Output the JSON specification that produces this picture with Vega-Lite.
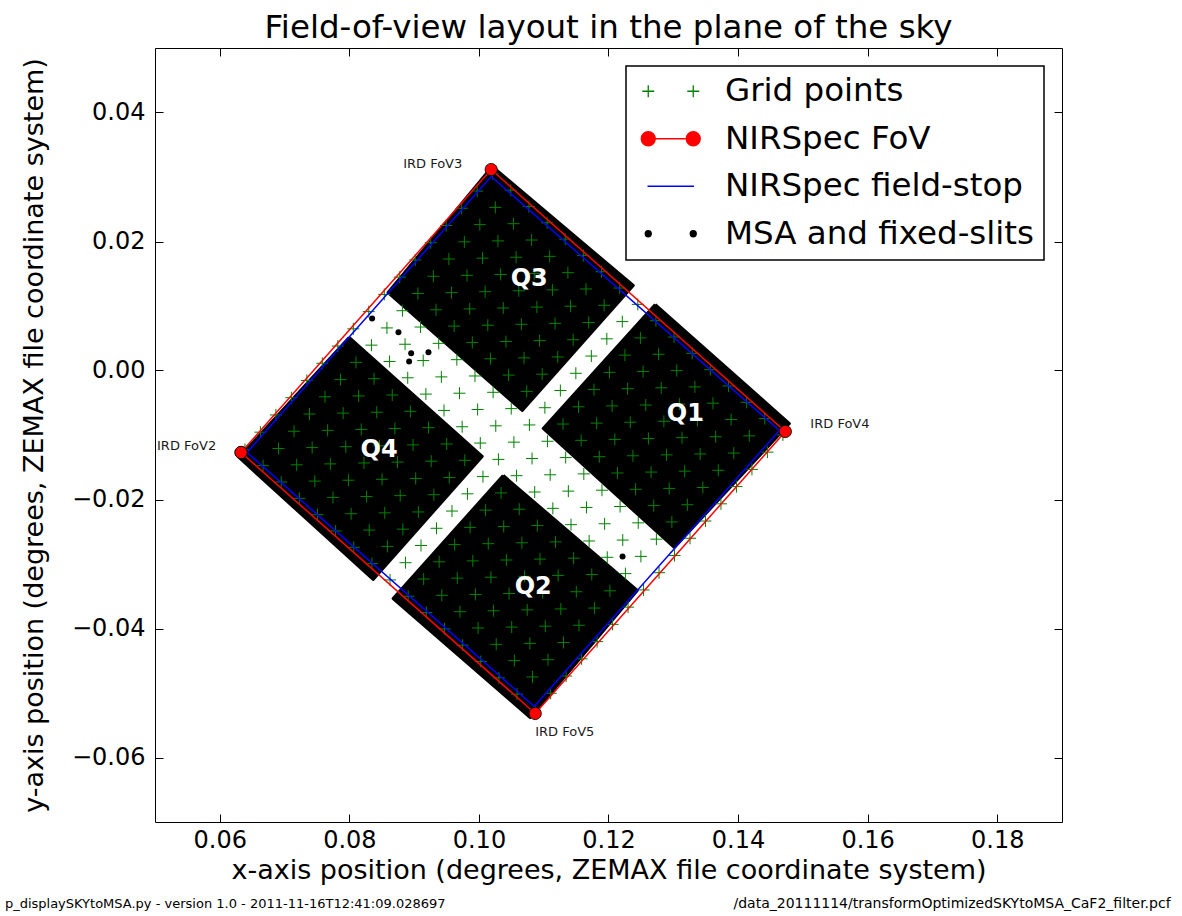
{
"$schema": "https://vega.github.io/schema/vega-lite/v6.json",
"width": 907, "height": 774,
"autosize": {"type": "none"},
"padding": {"left": 155, "top": 48, "right": 120, "bottom": 94},
"background": "white",
"title": {"text": "Field-of-view layout in the plane of the sky", "fontSize": 32.5, "font": "DejaVu Sans", "fontWeight": "normal", "color": "black", "anchor": "middle", "offset": 3},
"config": {"view": {"stroke": "black", "strokeWidth": 1}, "font": "DejaVu Sans"},
"datasets": {
"msa": [
{"series":"MSA and fixed-slits","q":"Q3","k":0,"x":0.10205,"y":0.03163},{"series":"MSA and fixed-slits","q":"Q3","k":1,"x":0.12382,"y":0.01318},{"series":"MSA and fixed-slits","q":"Q3","k":2,"x":0.10668,"y":-0.0062},{"series":"MSA and fixed-slits","q":"Q3","k":3,"x":0.08598,"y":0.01209},{"series":"MSA and fixed-slits","q":"Q3","k":4,"x":0.10205,"y":0.03163},
{"series":"MSA and fixed-slits","q":"Q1","k":0,"x":0.12722,"y":0.01023},{"series":"MSA and fixed-slits","q":"Q1","k":1,"x":0.14792,"y":-0.00822},{"series":"MSA and fixed-slits","q":"Q1","k":2,"x":0.13015,"y":-0.02744},{"series":"MSA and fixed-slits","q":"Q1","k":3,"x":0.10992,"y":-0.00899},{"series":"MSA and fixed-slits","q":"Q1","k":4,"x":0.12722,"y":0.01023},
{"series":"MSA and fixed-slits","q":"Q4","k":0,"x":0.07996,"y":0.00512},{"series":"MSA and fixed-slits","q":"Q4","k":1,"x":0.1005,"y":-0.01333},{"series":"MSA and fixed-slits","q":"Q4","k":2,"x":0.08367,"y":-0.0324},{"series":"MSA and fixed-slits","q":"Q4","k":3,"x":0.06297,"y":-0.01349},{"series":"MSA and fixed-slits","q":"Q4","k":4,"x":0.07996,"y":0.00512},
{"series":"MSA and fixed-slits","q":"Q2","k":0,"x":0.10375,"y":-0.01628},{"series":"MSA and fixed-slits","q":"Q2","k":1,"x":0.12444,"y":-0.03411},{"series":"MSA and fixed-slits","q":"Q2","k":2,"x":0.10792,"y":-0.0538},{"series":"MSA and fixed-slits","q":"Q2","k":3,"x":0.08676,"y":-0.03535},{"series":"MSA and fixed-slits","q":"Q2","k":4,"x":0.10375,"y":-0.01628}
],
"slits": [
{"series":"MSA and fixed-slits","x":0.08351,"y":0.00806},{"series":"MSA and fixed-slits","x":0.08758,"y":0.00594},{"series":"MSA and fixed-slits","x":0.08954,"y":0.00268},{"series":"MSA and fixed-slits","x":0.09221,"y":0.00284},{"series":"MSA and fixed-slits","x":0.08923,"y":0.0014},{"series":"MSA and fixed-slits","x":0.12217,"y":-0.02884}
],
"fov": [
{"series":"NIRSpec FoV","k":0,"x":0.06328,"y":-0.01271},{"series":"NIRSpec FoV","k":1,"x":0.10189,"y":0.03116},{"series":"NIRSpec FoV","k":2,"x":0.1473,"y":-0.00946},{"series":"NIRSpec FoV","k":3,"x":0.10869,"y":-0.05318},{"series":"NIRSpec FoV","k":4,"x":0.06328,"y":-0.01271}
],
"stop": [
{"series":"NIRSpec field-stop","k":0,"x":0.06421,"y":-0.01271},{"series":"NIRSpec field-stop","k":1,"x":0.10189,"y":0.03008},{"series":"NIRSpec field-stop","k":2,"x":0.14637,"y":-0.0093},{"series":"NIRSpec field-stop","k":3,"x":0.10853,"y":-0.05209},{"series":"NIRSpec field-stop","k":4,"x":0.06421,"y":-0.01271}
],
"ird": [
{"label":"IRD FoV3","x":0.0883,"y":0.03209},{"label":"IRD FoV4","x":0.15116,"y":-0.00822},{"label":"IRD FoV5","x":0.10869,"y":-0.05597},{"label":"IRD FoV2","x":0.05031,"y":-0.01178}
],
"quad": [
{"label":"Q3","x":0.10776,"y":0.01426},{"label":"Q1","x":0.13185,"y":-0.00682},{"label":"Q4","x":0.08459,"y":-0.0124},{"label":"Q2","x":0.10838,"y":-0.03349}
],
"footL": [{"label":"p_displaySKYtoMSA.py - version 1.0 - 2011-11-16T12:41:09.028697","x":0.02683,"y":-0.08264}],
"footR": [{"label":"/data_20111114/transformOptimizedSKYtoMSA_CaF2_filter.pcf","x":0.20676,"y":-0.08264}],
"grid": [
{"series":"Grid points","x":0.06388,"y":-0.01223},{"series":"Grid points","x":0.06627,"y":-0.00956},{"series":"Grid points","x":0.06866,"y":-0.00689},{"series":"Grid points","x":0.07105,"y":-0.00422},{"series":"Grid points","x":0.07344,"y":-0.00155},{"series":"Grid points","x":0.07583,"y":0.00112},{"series":"Grid points","x":0.07822,"y":0.00379},{"series":"Grid points","x":0.08061,"y":0.00646},{"series":"Grid points","x":0.083,"y":0.00913},{"series":"Grid points","x":0.08539,"y":0.0118},{"series":"Grid points","x":0.08778,"y":0.01447},{"series":"Grid points","x":0.09017,"y":0.01714},{"series":"Grid points","x":0.09256,"y":0.01981},{"series":"Grid points","x":0.09495,"y":0.02248},{"series":"Grid points","x":0.09734,"y":0.02515},{"series":"Grid points","x":0.09973,"y":0.02782},{"series":"Grid points","x":0.10212,"y":0.03049},
{"series":"Grid points","x":0.06668,"y":-0.01476},{"series":"Grid points","x":0.06907,"y":-0.01209},{"series":"Grid points","x":0.07146,"y":-0.00942},{"series":"Grid points","x":0.07385,"y":-0.00675},{"series":"Grid points","x":0.07624,"y":-0.00408},{"series":"Grid points","x":0.07863,"y":-0.00141},{"series":"Grid points","x":0.08102,"y":0.00126},{"series":"Grid points","x":0.08341,"y":0.00393},{"series":"Grid points","x":0.0858,"y":0.0066},{"series":"Grid points","x":0.08819,"y":0.00927},{"series":"Grid points","x":0.09058,"y":0.01194},{"series":"Grid points","x":0.09297,"y":0.01461},{"series":"Grid points","x":0.09536,"y":0.01728},{"series":"Grid points","x":0.09775,"y":0.01995},{"series":"Grid points","x":0.10014,"y":0.02262},{"series":"Grid points","x":0.10253,"y":0.02529},{"series":"Grid points","x":0.10492,"y":0.02796},
{"series":"Grid points","x":0.06948,"y":-0.01729},{"series":"Grid points","x":0.07187,"y":-0.01462},{"series":"Grid points","x":0.07426,"y":-0.01195},{"series":"Grid points","x":0.07665,"y":-0.00928},{"series":"Grid points","x":0.07904,"y":-0.00661},{"series":"Grid points","x":0.08143,"y":-0.00394},{"series":"Grid points","x":0.08382,"y":-0.00127},{"series":"Grid points","x":0.08621,"y":0.0014},{"series":"Grid points","x":0.0886,"y":0.00407},{"series":"Grid points","x":0.09099,"y":0.00674},{"series":"Grid points","x":0.09338,"y":0.00941},{"series":"Grid points","x":0.09577,"y":0.01208},{"series":"Grid points","x":0.09816,"y":0.01475},{"series":"Grid points","x":0.10055,"y":0.01742},{"series":"Grid points","x":0.10294,"y":0.02009},{"series":"Grid points","x":0.10533,"y":0.02276},{"series":"Grid points","x":0.10772,"y":0.02543},
{"series":"Grid points","x":0.07228,"y":-0.01982},{"series":"Grid points","x":0.07467,"y":-0.01715},{"series":"Grid points","x":0.07706,"y":-0.01448},{"series":"Grid points","x":0.07945,"y":-0.01181},{"series":"Grid points","x":0.08184,"y":-0.00914},{"series":"Grid points","x":0.08423,"y":-0.00647},{"series":"Grid points","x":0.08662,"y":-0.0038},{"series":"Grid points","x":0.08901,"y":-0.00113},{"series":"Grid points","x":0.0914,"y":0.00154},{"series":"Grid points","x":0.09379,"y":0.00421},{"series":"Grid points","x":0.09618,"y":0.00688},{"series":"Grid points","x":0.09857,"y":0.00955},{"series":"Grid points","x":0.10096,"y":0.01222},{"series":"Grid points","x":0.10335,"y":0.01489},{"series":"Grid points","x":0.10574,"y":0.01756},{"series":"Grid points","x":0.10813,"y":0.02023},{"series":"Grid points","x":0.11052,"y":0.0229},
{"series":"Grid points","x":0.07508,"y":-0.02235},{"series":"Grid points","x":0.07747,"y":-0.01968},{"series":"Grid points","x":0.07986,"y":-0.01701},{"series":"Grid points","x":0.08225,"y":-0.01434},{"series":"Grid points","x":0.08464,"y":-0.01167},{"series":"Grid points","x":0.08703,"y":-0.009},{"series":"Grid points","x":0.08942,"y":-0.00633},{"series":"Grid points","x":0.09181,"y":-0.00366},{"series":"Grid points","x":0.0942,"y":-0.00099},{"series":"Grid points","x":0.09659,"y":0.00168},{"series":"Grid points","x":0.09898,"y":0.00435},{"series":"Grid points","x":0.10137,"y":0.00702},{"series":"Grid points","x":0.10376,"y":0.00969},{"series":"Grid points","x":0.10615,"y":0.01236},{"series":"Grid points","x":0.10854,"y":0.01503},{"series":"Grid points","x":0.11093,"y":0.0177},{"series":"Grid points","x":0.11332,"y":0.02037},
{"series":"Grid points","x":0.07788,"y":-0.02488},{"series":"Grid points","x":0.08027,"y":-0.02221},{"series":"Grid points","x":0.08266,"y":-0.01954},{"series":"Grid points","x":0.08505,"y":-0.01687},{"series":"Grid points","x":0.08744,"y":-0.0142},{"series":"Grid points","x":0.08983,"y":-0.01153},{"series":"Grid points","x":0.09222,"y":-0.00886},{"series":"Grid points","x":0.09461,"y":-0.00619},{"series":"Grid points","x":0.097,"y":-0.00352},{"series":"Grid points","x":0.09939,"y":-0.00085},{"series":"Grid points","x":0.10178,"y":0.00182},{"series":"Grid points","x":0.10417,"y":0.00449},{"series":"Grid points","x":0.10656,"y":0.00716},{"series":"Grid points","x":0.10895,"y":0.00983},{"series":"Grid points","x":0.11134,"y":0.0125},{"series":"Grid points","x":0.11373,"y":0.01517},{"series":"Grid points","x":0.11612,"y":0.01784},
{"series":"Grid points","x":0.08068,"y":-0.02741},{"series":"Grid points","x":0.08307,"y":-0.02474},{"series":"Grid points","x":0.08546,"y":-0.02207},{"series":"Grid points","x":0.08785,"y":-0.0194},{"series":"Grid points","x":0.09024,"y":-0.01673},{"series":"Grid points","x":0.09263,"y":-0.01406},{"series":"Grid points","x":0.09502,"y":-0.01139},{"series":"Grid points","x":0.09741,"y":-0.00872},{"series":"Grid points","x":0.0998,"y":-0.00605},{"series":"Grid points","x":0.10219,"y":-0.00338},{"series":"Grid points","x":0.10458,"y":-0.00071},{"series":"Grid points","x":0.10697,"y":0.00196},{"series":"Grid points","x":0.10936,"y":0.00463},{"series":"Grid points","x":0.11175,"y":0.0073},{"series":"Grid points","x":0.11414,"y":0.00997},{"series":"Grid points","x":0.11653,"y":0.01264},{"series":"Grid points","x":0.11892,"y":0.01531},
{"series":"Grid points","x":0.08348,"y":-0.02994},{"series":"Grid points","x":0.08587,"y":-0.02727},{"series":"Grid points","x":0.08826,"y":-0.0246},{"series":"Grid points","x":0.09065,"y":-0.02193},{"series":"Grid points","x":0.09304,"y":-0.01926},{"series":"Grid points","x":0.09543,"y":-0.01659},{"series":"Grid points","x":0.09782,"y":-0.01392},{"series":"Grid points","x":0.10021,"y":-0.01125},{"series":"Grid points","x":0.1026,"y":-0.00858},{"series":"Grid points","x":0.10499,"y":-0.00591},{"series":"Grid points","x":0.10738,"y":-0.00324},{"series":"Grid points","x":0.10977,"y":-0.00057},{"series":"Grid points","x":0.11216,"y":0.0021},{"series":"Grid points","x":0.11455,"y":0.00477},{"series":"Grid points","x":0.11694,"y":0.00744},{"series":"Grid points","x":0.11933,"y":0.01011},{"series":"Grid points","x":0.12172,"y":0.01278},
{"series":"Grid points","x":0.08628,"y":-0.03247},{"series":"Grid points","x":0.08867,"y":-0.0298},{"series":"Grid points","x":0.09106,"y":-0.02713},{"series":"Grid points","x":0.09345,"y":-0.02446},{"series":"Grid points","x":0.09584,"y":-0.02179},{"series":"Grid points","x":0.09823,"y":-0.01912},{"series":"Grid points","x":0.10062,"y":-0.01645},{"series":"Grid points","x":0.10301,"y":-0.01378},{"series":"Grid points","x":0.1054,"y":-0.01111},{"series":"Grid points","x":0.10779,"y":-0.00844},{"series":"Grid points","x":0.11018,"y":-0.00577},{"series":"Grid points","x":0.11257,"y":-0.0031},{"series":"Grid points","x":0.11496,"y":-0.00043},{"series":"Grid points","x":0.11735,"y":0.00224},{"series":"Grid points","x":0.11974,"y":0.00491},{"series":"Grid points","x":0.12213,"y":0.00758},{"series":"Grid points","x":0.12452,"y":0.01025},
{"series":"Grid points","x":0.08908,"y":-0.035},{"series":"Grid points","x":0.09147,"y":-0.03233},{"series":"Grid points","x":0.09386,"y":-0.02966},{"series":"Grid points","x":0.09625,"y":-0.02699},{"series":"Grid points","x":0.09864,"y":-0.02432},{"series":"Grid points","x":0.10103,"y":-0.02165},{"series":"Grid points","x":0.10342,"y":-0.01898},{"series":"Grid points","x":0.10581,"y":-0.01631},{"series":"Grid points","x":0.1082,"y":-0.01364},{"series":"Grid points","x":0.11059,"y":-0.01097},{"series":"Grid points","x":0.11298,"y":-0.0083},{"series":"Grid points","x":0.11537,"y":-0.00563},{"series":"Grid points","x":0.11776,"y":-0.00296},{"series":"Grid points","x":0.12015,"y":-0.00029},{"series":"Grid points","x":0.12254,"y":0.00238},{"series":"Grid points","x":0.12493,"y":0.00505},{"series":"Grid points","x":0.12732,"y":0.00772},
{"series":"Grid points","x":0.09188,"y":-0.03753},{"series":"Grid points","x":0.09427,"y":-0.03486},{"series":"Grid points","x":0.09666,"y":-0.03219},{"series":"Grid points","x":0.09905,"y":-0.02952},{"series":"Grid points","x":0.10144,"y":-0.02685},{"series":"Grid points","x":0.10383,"y":-0.02418},{"series":"Grid points","x":0.10622,"y":-0.02151},{"series":"Grid points","x":0.10861,"y":-0.01884},{"series":"Grid points","x":0.111,"y":-0.01617},{"series":"Grid points","x":0.11339,"y":-0.0135},{"series":"Grid points","x":0.11578,"y":-0.01083},{"series":"Grid points","x":0.11817,"y":-0.00816},{"series":"Grid points","x":0.12056,"y":-0.00549},{"series":"Grid points","x":0.12295,"y":-0.00282},{"series":"Grid points","x":0.12534,"y":-0.00015},{"series":"Grid points","x":0.12773,"y":0.00252},{"series":"Grid points","x":0.13012,"y":0.00519},
{"series":"Grid points","x":0.09468,"y":-0.04006},{"series":"Grid points","x":0.09707,"y":-0.03739},{"series":"Grid points","x":0.09946,"y":-0.03472},{"series":"Grid points","x":0.10185,"y":-0.03205},{"series":"Grid points","x":0.10424,"y":-0.02938},{"series":"Grid points","x":0.10663,"y":-0.02671},{"series":"Grid points","x":0.10902,"y":-0.02404},{"series":"Grid points","x":0.11141,"y":-0.02137},{"series":"Grid points","x":0.1138,"y":-0.0187},{"series":"Grid points","x":0.11619,"y":-0.01603},{"series":"Grid points","x":0.11858,"y":-0.01336},{"series":"Grid points","x":0.12097,"y":-0.01069},{"series":"Grid points","x":0.12336,"y":-0.00802},{"series":"Grid points","x":0.12575,"y":-0.00535},{"series":"Grid points","x":0.12814,"y":-0.00268},{"series":"Grid points","x":0.13053,"y":-0.00001},{"series":"Grid points","x":0.13292,"y":0.00266},
{"series":"Grid points","x":0.09748,"y":-0.04259},{"series":"Grid points","x":0.09987,"y":-0.03992},{"series":"Grid points","x":0.10226,"y":-0.03725},{"series":"Grid points","x":0.10465,"y":-0.03458},{"series":"Grid points","x":0.10704,"y":-0.03191},{"series":"Grid points","x":0.10943,"y":-0.02924},{"series":"Grid points","x":0.11182,"y":-0.02657},{"series":"Grid points","x":0.11421,"y":-0.0239},{"series":"Grid points","x":0.1166,"y":-0.02123},{"series":"Grid points","x":0.11899,"y":-0.01856},{"series":"Grid points","x":0.12138,"y":-0.01589},{"series":"Grid points","x":0.12377,"y":-0.01322},{"series":"Grid points","x":0.12616,"y":-0.01055},{"series":"Grid points","x":0.12855,"y":-0.00788},{"series":"Grid points","x":0.13094,"y":-0.00521},{"series":"Grid points","x":0.13333,"y":-0.00254},{"series":"Grid points","x":0.13572,"y":0.00013},
{"series":"Grid points","x":0.10028,"y":-0.04512},{"series":"Grid points","x":0.10267,"y":-0.04245},{"series":"Grid points","x":0.10506,"y":-0.03978},{"series":"Grid points","x":0.10745,"y":-0.03711},{"series":"Grid points","x":0.10984,"y":-0.03444},{"series":"Grid points","x":0.11223,"y":-0.03177},{"series":"Grid points","x":0.11462,"y":-0.0291},{"series":"Grid points","x":0.11701,"y":-0.02643},{"series":"Grid points","x":0.1194,"y":-0.02376},{"series":"Grid points","x":0.12179,"y":-0.02109},{"series":"Grid points","x":0.12418,"y":-0.01842},{"series":"Grid points","x":0.12657,"y":-0.01575},{"series":"Grid points","x":0.12896,"y":-0.01308},{"series":"Grid points","x":0.13135,"y":-0.01041},{"series":"Grid points","x":0.13374,"y":-0.00774},{"series":"Grid points","x":0.13613,"y":-0.00507},{"series":"Grid points","x":0.13852,"y":-0.0024},
{"series":"Grid points","x":0.10308,"y":-0.04765},{"series":"Grid points","x":0.10547,"y":-0.04498},{"series":"Grid points","x":0.10786,"y":-0.04231},{"series":"Grid points","x":0.11025,"y":-0.03964},{"series":"Grid points","x":0.11264,"y":-0.03697},{"series":"Grid points","x":0.11503,"y":-0.0343},{"series":"Grid points","x":0.11742,"y":-0.03163},{"series":"Grid points","x":0.11981,"y":-0.02896},{"series":"Grid points","x":0.1222,"y":-0.02629},{"series":"Grid points","x":0.12459,"y":-0.02362},{"series":"Grid points","x":0.12698,"y":-0.02095},{"series":"Grid points","x":0.12937,"y":-0.01828},{"series":"Grid points","x":0.13176,"y":-0.01561},{"series":"Grid points","x":0.13415,"y":-0.01294},{"series":"Grid points","x":0.13654,"y":-0.01027},{"series":"Grid points","x":0.13893,"y":-0.0076},{"series":"Grid points","x":0.14132,"y":-0.00493},
{"series":"Grid points","x":0.10588,"y":-0.05018},{"series":"Grid points","x":0.10827,"y":-0.04751},{"series":"Grid points","x":0.11066,"y":-0.04484},{"series":"Grid points","x":0.11305,"y":-0.04217},{"series":"Grid points","x":0.11544,"y":-0.0395},{"series":"Grid points","x":0.11783,"y":-0.03683},{"series":"Grid points","x":0.12022,"y":-0.03416},{"series":"Grid points","x":0.12261,"y":-0.03149},{"series":"Grid points","x":0.125,"y":-0.02882},{"series":"Grid points","x":0.12739,"y":-0.02615},{"series":"Grid points","x":0.12978,"y":-0.02348},{"series":"Grid points","x":0.13217,"y":-0.02081},{"series":"Grid points","x":0.13456,"y":-0.01814},{"series":"Grid points","x":0.13695,"y":-0.01547},{"series":"Grid points","x":0.13934,"y":-0.0128},{"series":"Grid points","x":0.14173,"y":-0.01013},{"series":"Grid points","x":0.14412,"y":-0.00746},
{"series":"Grid points","x":0.10868,"y":-0.05271},{"series":"Grid points","x":0.11107,"y":-0.05004},{"series":"Grid points","x":0.11346,"y":-0.04737},{"series":"Grid points","x":0.11585,"y":-0.0447},{"series":"Grid points","x":0.11824,"y":-0.04203},{"series":"Grid points","x":0.12063,"y":-0.03936},{"series":"Grid points","x":0.12302,"y":-0.03669},{"series":"Grid points","x":0.12541,"y":-0.03402},{"series":"Grid points","x":0.1278,"y":-0.03135},{"series":"Grid points","x":0.13019,"y":-0.02868},{"series":"Grid points","x":0.13258,"y":-0.02601},{"series":"Grid points","x":0.13497,"y":-0.02334},{"series":"Grid points","x":0.13736,"y":-0.02067},{"series":"Grid points","x":0.13975,"y":-0.018},{"series":"Grid points","x":0.14214,"y":-0.01533},{"series":"Grid points","x":0.14453,"y":-0.01266},{"series":"Grid points","x":0.14692,"y":-0.00999}
]
},
"encoding": {
"x": {"field": "x", "type": "quantitative", "scale": {"domain": [0.05, 0.19], "nice": false, "zero": false}, "axis": null},
"y": {"field": "y", "type": "quantitative", "scale": {"domain": [-0.07, 0.05], "nice": false, "zero": false}, "axis": null},
"color": {"field": "series", "type": "nominal",
  "scale": {"domain": ["Grid points", "NIRSpec FoV", "NIRSpec field-stop", "MSA and fixed-slits"], "range": ["#008000", "#ff0000", "#0000ff", "#000000"]},
  "legend": {"title": null, "orient": "top-right", "offset": 18, "padding": 9, "fillColor": "white", "strokeColor": "black", "cornerRadius": 0,
    "labelFontSize": 32.5, "labelFont": "DejaVu Sans", "labelColor": "black", "labelLimit": 600,
    "symbolSize": 900, "symbolStrokeWidth": 1.3, "symbolOffset": 19.5, "labelOffset": 38, "rowPadding": 14.5,
    "encode": {
      "symbols": {"update": {
        "shape": {"signal": "datum.value === 'Grid points' ? 'M-1.9,0H-1.1M-1.5,-0.4V0.4M1.1,0H1.9M1.5,-0.4V0.4' : datum.value === 'NIRSpec FoV' ? 'M-1.5,0H1.5M-1.967,0A0.467,0.467,0,1,0,-1.033,0A0.467,0.467,0,1,0,-1.967,0ZM1.033,0A0.467,0.467,0,1,0,1.967,0A0.467,0.467,0,1,0,1.033,0Z' : datum.value === 'NIRSpec field-stop' ? 'M-1.55,0H1.55' : 'M-1.7,0A0.2,0.2,0,1,0,-1.3,0A0.2,0.2,0,1,0,-1.7,0ZM1.3,0A0.2,0.2,0,1,0,1.7,0A0.2,0.2,0,1,0,1.3,0Z'"},
        "fill": {"signal": "datum.value === 'NIRSpec FoV' ? '#ff0000' : datum.value === 'MSA and fixed-slits' ? '#000000' : 'transparent'"},
        "stroke": {"signal": "datum.value === 'Grid points' ? '#008000' : datum.value === 'NIRSpec FoV' ? '#ff0000' : datum.value === 'NIRSpec field-stop' ? '#0000ff' : '#000000'"}
      }},
      "legend": {"update": {"strokeWidth": {"value": 1.5}}}
    }
  }
}
},
"layer": [
{"data": {"name": "msa"}, "mark": {"type": "line", "fill": "black", "strokeWidth": 3, "strokeJoin": "round"},
 "encoding": {"detail": {"field": "q"}, "order": {"field": "k", "type": "quantitative"}}},
{"data": {"name": "slits"}, "mark": {"type": "point", "filled": true, "shape": "circle", "size": 36, "opacity": 1}},
{"data": {"name": "grid"}, "mark": {"type": "point", "filled": false, "shape": "M-1,0H1M0,-1V1", "size": 144, "strokeWidth": 1, "opacity": 1}},
{"data": {"name": "stop"}, "mark": {"type": "line", "strokeWidth": 1.5},
 "encoding": {"order": {"field": "k", "type": "quantitative"},
   "x": {"field": "x", "type": "quantitative", "scale": {"domain": [0.05, 0.19], "nice": false, "zero": false},
     "axis": {"orient": "top", "values": [0.06, 0.08, 0.1, 0.12, 0.14, 0.16, 0.18], "labels": false, "title": null, "tickSize": -8, "tickColor": "black", "tickWidth": 1, "domain": false, "grid": false}},
   "y": {"field": "y", "type": "quantitative", "scale": {"domain": [-0.07, 0.05], "nice": false, "zero": false},
     "axis": {"orient": "right", "values": [-0.06, -0.04, -0.02, 0, 0.02, 0.04], "labels": false, "title": null, "tickSize": -8, "tickColor": "black", "tickWidth": 1, "domain": false, "grid": false}}}},
{"data": {"name": "fov"}, "mark": {"type": "line", "strokeWidth": 1.5},
 "encoding": {"order": {"field": "k", "type": "quantitative"},
   "x": {"field": "x", "type": "quantitative", "scale": {"domain": [0.05, 0.19], "nice": false, "zero": false},
     "axis": {"orient": "bottom", "values": [0.06, 0.08, 0.1, 0.12, 0.14, 0.16, 0.18], "format": ".2f", "title": "x-axis position (degrees, ZEMAX file coordinate system)",
       "titleFontSize": 27, "titleFont": "DejaVu Sans", "titleFontWeight": "normal", "titleColor": "black", "titlePadding": 5,
       "labelFontSize": 24, "labelFont": "DejaVu Sans", "labelColor": "black", "labelPadding": 14, "labelFlush": false, "labelOverlap": false,
       "tickSize": -8, "tickColor": "black", "tickWidth": 1, "domain": false, "grid": false}},
   "y": {"field": "y", "type": "quantitative", "scale": {"domain": [-0.07, 0.05], "nice": false, "zero": false},
     "axis": {"orient": "left", "values": [-0.06, -0.04, -0.02, 0, 0.02, 0.04], "format": ".2f", "title": "y-axis position (degrees, ZEMAX file coordinate system)",
       "titleFontSize": 27, "titleFont": "DejaVu Sans", "titleFontWeight": "normal", "titleColor": "black", "titlePadding": 23,
       "labelFontSize": 24, "labelFont": "DejaVu Sans", "labelColor": "black", "labelPadding": 18, "labelFlush": false, "labelOverlap": false,
       "tickSize": -8, "tickColor": "black", "tickWidth": 1, "domain": false, "grid": false}}}},
{"data": {"name": "fov"}, "mark": {"type": "point", "filled": true, "shape": "circle", "size": 150, "stroke": "black", "strokeWidth": 0.8, "opacity": 1}},
{"data": {"name": "ird"}, "mark": {"type": "text", "align": "left", "baseline": "middle", "fontSize": 13, "font": "DejaVu Sans"},
 "encoding": {"text": {"field": "label"}, "color": {"value": "#1a1a1a"}}},
{"data": {"name": "quad"}, "mark": {"type": "text", "align": "center", "baseline": "middle", "fontSize": 24, "fontWeight": "bold", "font": "DejaVu Sans"},
 "encoding": {"text": {"field": "label"}, "color": {"value": "white"}}},
{"data": {"name": "footL"}, "mark": {"type": "text", "align": "left", "baseline": "middle", "fontSize": 13, "font": "DejaVu Sans"},
 "encoding": {"text": {"field": "label"}, "color": {"value": "black"}}},
{"data": {"name": "footR"}, "mark": {"type": "text", "align": "right", "baseline": "middle", "fontSize": 14, "font": "DejaVu Sans"},
 "encoding": {"text": {"field": "label"}, "color": {"value": "black"}}}
]
}
